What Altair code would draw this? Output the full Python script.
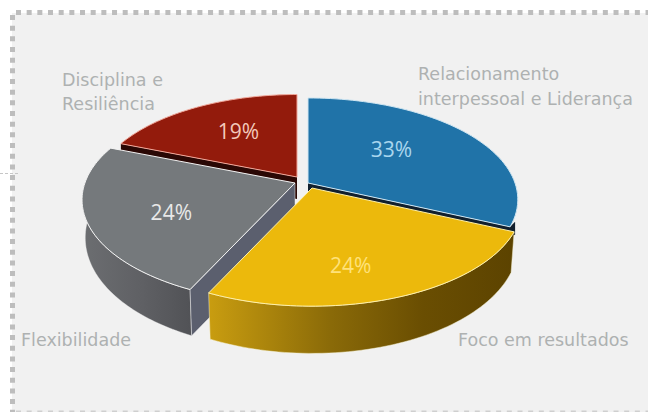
import math
import altair as alt

# Survey shares, clockwise from twelve o'clock
CATEGORIES = ["Relacionamento interpessoal e Liderança", "Foco em resultados", "Flexibilidade", "Disciplina e Resiliência"]
SHARES = [33, 24, 24, 19]

# Pie geometry: perspective disc seen from above
RX, RY, PERSPECTIVE = 207.0, 98.9, 0.163
RIGHT_SKEW = 5.0
BOTTOM_SCALE = 0.985
APEX = [(308, 183), (312, 188), (295, 183), (297, 177)]
RADIUS = [1.0, 1.0, 1.015, 0.97]
LABEL_FRACTION = [0.55, 0.62, 0.6, 0.6]
LABEL_NUDGE = [(-2, -4), (-12, 11), (1, 7), (1, -2)]

CAPTION_FONT = "DejaVu Sans"
PCT_FONT = "Open Sans"
TEXT_GREY = "#aeb1b1"
PANEL = "#f1f1f1"
DOT = "#bdbdbd"
TOP_FILL = ["#2073a8", "#ecb90c", "#75797c", "#931b0c"]
TOP_EDGE = ["#cfe6f2", "#fff0a8", "#f2f2f2", "#f0a79a"]
PCT_COLOR = ["#a9d6ee", "#ffe27a", "#e8e8e8", "#f3c9bb"]


def warp(deg):
    s = math.sin(math.radians(deg))
    return math.radians(deg - RIGHT_SKEW * max(0.0, s))


def rim(i, deg):
    """Offset from the slice apex to the disc rim at a pie angle."""
    t = warp(deg)
    u, v = math.sin(t), math.cos(t)
    w = 1 + PERSPECTIVE * v
    return RADIUS[i] * RX * u / w, -RADIUS[i] * RY * v / w, v


def top_point(i, deg):
    dx, dy, _ = rim(i, deg)
    return APEX[i][0] + dx, APEX[i][1] + dy


def bottom_point(i, deg):
    dx, dy, v = rim(i, deg)
    return APEX[i][0] + BOTTOM_SCALE * dx, APEX[i][1] + BOTTOM_SCALE * dy + 36 - 13 * v


def sweep(a, b, n=60):
    return [a + (b - a) * j / n for j in range(n + 1)]


def polygon(points):
    ring = [[round(x, 2), round(y, 2)] for x, y in points]
    ring.append(ring[0])
    return alt.InlineData(values=[{"type": "Feature", "properties": {},
                                   "geometry": {"type": "Polygon", "coordinates": [ring]}}])


PROJECTION = alt.Projection(type="identity", scale=1, translate=[0, 0])


def shape(points, fill, stroke=None, width=0.0):
    opts = {"fill": fill}
    if stroke:
        opts.update(stroke=stroke, strokeWidth=width)
    else:
        opts.update(strokeWidth=0)
    return alt.Chart(polygon(points)).mark_geoshape(**opts).project(**PROJECTION.to_dict())


def gradient(stops):
    return alt.LinearGradient(gradient="linear", x1=0, x2=1, y1=0, y2=0,
                              stops=[alt.GradientStop(offset=o, color=c) for o, c in stops])


# Cumulative start and end angle of every slice
edges = [0.0]
for share in SHARES:
    edges.append(edges[-1] + share * 360 / sum(SHARES))
BLUE, YELLOW, GREY, RED = 0, 1, 2, 3

layers = []

# Panel and dotted frame
layers.append(alt.Chart().mark_rect(color=PANEL).encode(
    x=alt.value(12), x2=alt.value(648), y=alt.value(13), y2=alt.value(412)))
layers.append(alt.Chart().mark_rule(color="#c6c6c6", strokeWidth=1, strokeDash=[3, 2]).encode(
    x=alt.value(0), x2=alt.value(19), y=alt.value(173.5)))
layers.append(alt.Chart().mark_rule(color=DOT, strokeWidth=5, strokeDash=[5, 5.67]).encode(
    x=alt.value(16), x2=alt.value(648), y=alt.value(12.5)))
layers.append(alt.Chart().mark_rule(color=DOT, strokeWidth=5, strokeDash=[5, 5.67]).encode(
    x=alt.value(12.5), y=alt.value(15), y2=alt.value(412)))
layers.append(alt.Chart().mark_rule(color="#cfcfcf", strokeWidth=3, strokeDash=[5, 5.67]).encode(
    x=alt.value(16), x2=alt.value(648), y=alt.value(412)))

# Red slice: cut face, then top
p = top_point(RED, edges[RED])
a = APEX[RED]
layers.append(shape([p, a, (a[0], a[1] + 22), (p[0], p[1] + 22)], "#2a0805"))
layers.append(shape([a] + [top_point(RED, d) for d in sweep(edges[RED], edges[RED + 1])],
                    TOP_FILL[RED], TOP_EDGE[RED], 1))

# Blue slice: thin dark cut face with a sliver of wall at the rim, then top
p = top_point(BLUE, edges[BLUE + 1])
a = APEX[BLUE]
layers.append(shape([(p[0] + 5, p[1] - 5), (p[0] + 5, p[1] + 8), (p[0], p[1] + 10),
                     (a[0], a[1] + 10), a, p], "#12202e"))
layers.append(shape([a] + [top_point(BLUE, d) for d in sweep(edges[BLUE], edges[BLUE + 1])],
                    TOP_FILL[BLUE], TOP_EDGE[BLUE], 1))

# Grey slice: outer wall, cut face, top
outer = sweep(edges[GREY], 270)
layers.append(shape([top_point(GREY, d) for d in outer] + [bottom_point(GREY, d) for d in reversed(outer)],
                    gradient([(0, "#6c6e71"), (0.55, "#5f6064"), (1, "#515256")]), "#f2f2f2", 0.4))
p = top_point(GREY, edges[GREY])
q = bottom_point(GREY, edges[GREY])
a = APEX[GREY]
layers.append(shape([p, a, (a[0], a[1] + 47), q], "#5b5f6e", "#eeeeee", 0.5))
layers.append(shape([a] + [top_point(GREY, d) for d in sweep(edges[GREY], edges[GREY + 1])],
                    TOP_FILL[GREY], TOP_EDGE[GREY], 1))

# Yellow slice: outer wall and top
outer = sweep(edges[YELLOW], edges[YELLOW + 1])
layers.append(shape([top_point(YELLOW, d) for d in outer] + [bottom_point(YELLOW, d) for d in reversed(outer)],
                    gradient([(0, "#c99d10"), (0.4, "#8a6a08"), (0.7, "#6a4e02"), (1, "#5c4300")]), "#f5f0d0", 0.5))
a = APEX[YELLOW]
layers.append(shape([a] + [top_point(YELLOW, d) for d in outer],
                    TOP_FILL[YELLOW], TOP_EDGE[YELLOW], 1))

# Percentage labels sit part-way along each slice's bisector
pct_rows = []
for i, share in enumerate(SHARES):
    dx, dy, _ = rim(i, (edges[i] + edges[i + 1]) / 2)
    pct_rows.append({
        "px": APEX[i][0] + LABEL_FRACTION[i] * dx + LABEL_NUDGE[i][0],
        "py": APEX[i][1] + LABEL_FRACTION[i] * dy + LABEL_NUDGE[i][1],
        "txt": f"{share}%",
        "col": PCT_COLOR[i],
    })
layers.append(alt.Chart(alt.InlineData(values=pct_rows)).mark_text(
    font=PCT_FONT, fontSize=21, align="center", baseline="middle").encode(
    x=alt.X("px:Q", scale=None), y=alt.Y("py:Q", scale=None),
    text="txt:N", color=alt.Color("col:N", scale=None)))

# Category captions
caption_rows = [
    {"px": 62, "py": 80.5, "txt": "Disciplina e"},
    {"px": 62, "py": 105, "txt": "Resiliência"},
    {"px": 418, "py": 75, "txt": "Relacionamento"},
    {"px": 418, "py": 100, "txt": "interpessoal e Liderança"},
    {"px": 21, "py": 341, "txt": "Flexibilidade"},
    {"px": 458, "py": 341, "txt": "Foco em resultados"},
]
layers.append(alt.Chart(alt.InlineData(values=caption_rows)).mark_text(
    font=CAPTION_FONT, fontSize=17.5, align="left", baseline="middle", color=TEXT_GREY).encode(
    x=alt.X("px:Q", scale=None), y=alt.Y("py:Q", scale=None), text="txt:N"))

chart = alt.layer(*layers).properties(
    width=648, height=412, padding=0, autosize=alt.AutoSizeParams(type="none"),
    background="#ffffff",
).configure_view(stroke=None).resolve_scale(x="independent", y="independent")

chart.save("out.html", embed_options={"renderer": "svg", "actions": False})
